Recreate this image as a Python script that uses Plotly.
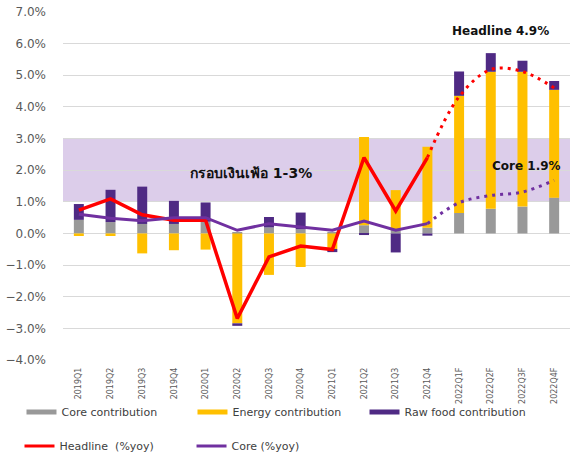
import plotly.graph_objects as go

# quarterly inflation breakdown (% yoy)
quarters = ["2019Q1", "2019Q2", "2019Q3", "2019Q4", "2020Q1", "2020Q2", "2020Q3", "2020Q4",
            "2021Q1", "2021Q2", "2021Q3", "2021Q4", "2022Q1F", "2022Q2F", "2022Q3F", "2022Q4F"]
core_contrib = [0.43, 0.36, 0.30, 0.30, 0.37, 0.03, 0.19, 0.13,
                0.05, 0.26, 0.13, 0.18, 0.65, 0.78, 0.85, 1.13]
energy_contrib = [-0.08, -0.08, -0.63, -0.53, -0.51, -2.84, -1.31, -1.06,
                  -0.49, 2.79, 1.24, 2.56, 3.70, 4.33, 4.26, 3.41]
rawfood_contrib = [0.50, 1.02, 1.18, 0.73, 0.61, -0.08, 0.33, 0.53,
                   -0.10, -0.05, -0.60, -0.07, 0.77, 0.59, 0.35, 0.28]
headline = [0.74, 1.09, 0.59, 0.42, 0.42, -2.69, -0.74, -0.40,
            -0.51, 2.40, 0.71, 2.40, 4.32, 5.18, 5.12, 4.60]
core = [0.61, 0.48, 0.40, 0.50, 0.50, 0.10, 0.31, 0.20,
        0.10, 0.39, 0.10, 0.31, 0.97, 1.20, 1.31, 1.68]
n_actual = 12  # last actual quarter is 2021Q4, the rest is forecast

GRAY = "#999999"
YELLOW = "#ffc000"
PURPLE = "#4f2a84"
RED = "#ff0000"
CORE_LINE = "#7030a0"
FONT = "DejaVu Sans, Noto Sans, sans-serif"

fig = go.Figure()

# stacked contribution bars
for name, vals, col in [("Core contribution", core_contrib, GRAY),
                        ("Energy contribution", energy_contrib, YELLOW),
                        ("Raw food contribution", rawfood_contrib, PURPLE)]:
    fig.add_trace(go.Bar(x=quarters, y=vals, marker_color=col, showlegend=False,
                         marker_line_width=0))

# actual lines
fig.add_trace(go.Scatter(x=quarters[:n_actual], y=headline[:n_actual], mode="lines",
                         line=dict(color=RED, width=3.5), showlegend=False))
fig.add_trace(go.Scatter(x=quarters[:n_actual], y=core[:n_actual], mode="lines",
                         line=dict(color=CORE_LINE, width=3), showlegend=False))
# forecast lines (dotted)
fig.add_trace(go.Scatter(x=quarters[n_actual - 1:], y=headline[n_actual - 1:], mode="lines",
                         line=dict(color=RED, width=3, dash="3px,5px", shape="spline"),
                         showlegend=False))
fig.add_trace(go.Scatter(x=quarters[n_actual - 1:], y=core[n_actual - 1:], mode="lines",
                         line=dict(color=CORE_LINE, width=3, dash="3px,5px", shape="spline"),
                         showlegend=False))

# legend-only entries, one legend box each so they sit like the excel legend
legend_items = [("Core contribution", GRAY, 5, "legend", 0.0377, 0.0985),
                ("Energy contribution", YELLOW, 5, "legend2", 0.3377, 0.0985),
                ("Raw food contribution", PURPLE, 5, "legend3", 0.6395, 0.0985),
                ("Headline  (%yoy)", RED, 3, "legend4", 0.0342, 0.024),
                ("Core (%yoy)", CORE_LINE, 3, "legend5", 0.336, 0.024)]
legends = {}
for name, col, w, lg, lx, ly in legend_items:
    fig.add_trace(go.Scatter(x=[None], y=[None], mode="lines", name=name,
                             line=dict(color=col, width=w), legend=lg))
    legends[lg] = dict(orientation="h", xref="container", yref="container", x=lx, y=ly,
                       xanchor="left", yanchor="middle",
                       font=dict(size=11, color="#404040"), itemwidth=30,
                       bgcolor="rgba(0,0,0,0)")

# inflation target band 1-3%
fig.add_shape(type="rect", xref="paper", x0=0, x1=1, yref="y", y0=1, y1=3,
              fillcolor="#dccdea", line_width=0, layer="below")

fig.add_annotation(x=0.371, xref="paper", y=1.9, text="<b>กรอบเงินเฟ้อ 1-3%</b>",
                   xanchor="center", showarrow=False,
                   font=dict(size=14, color="#111111", family=FONT))
fig.add_annotation(x=0.862, xref="paper", y=6.4, text="<b>Headline 4.9%</b>",
                   xanchor="center", showarrow=False,
                   font=dict(size=12, color="#111111", family=FONT))
fig.add_annotation(x=0.914, xref="paper", y=2.14, text="<b>Core 1.9%</b>",
                   xanchor="center", showarrow=False,
                   font=dict(size=12, color="#111111", family=FONT))

fig.update_layout(
    width=570, height=457,
    margin=dict(l=63, r=0, t=12, b=97),
    barmode="relative", bargap=0.685,
    plot_bgcolor="white", paper_bgcolor="white",
    font=dict(family=FONT, color="#595959"),
    **legends,
)
fig.update_yaxes(range=[-4, 7], dtick=1, tickformat=".1f", ticksuffix="%",
                 showgrid=True, gridcolor="#d9d9d9", gridwidth=1,
                 zeroline=True, zerolinecolor="#d9d9d9", zerolinewidth=1,
                 tickfont=dict(size=12, color="#595959"), showline=False,
                 ticklabelstandoff=16, automargin=False)
fig.update_xaxes(tickangle=-90, tickfont=dict(size=8, color="#595959"),
                 showgrid=False, showline=False, ticks="", ticklabelstandoff=5,
                 automargin=False)

fig.write_html("out.html", config={"displayModeBar": False},
               post_script="document.body.style.margin='0';")
